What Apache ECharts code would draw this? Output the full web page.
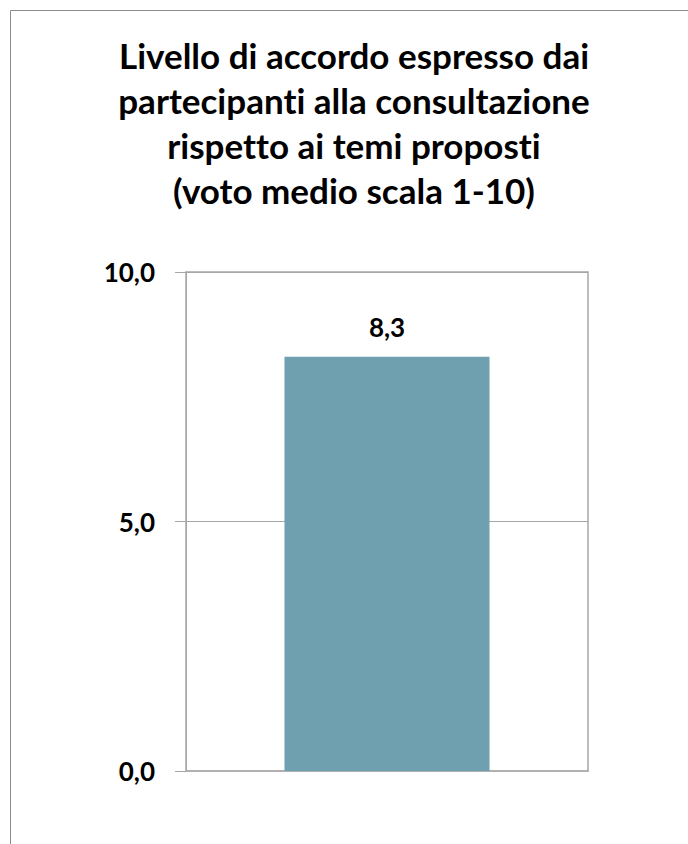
<!DOCTYPE html>
<html>
<head>
<meta charset="utf-8">
<script src="https://cdn.jsdelivr.net/npm/echarts@6/dist/echarts.min.js"></script>
<style>
html,body{margin:0;padding:0;background:#fff;}
#chart{width:688px;height:844px;}
#chart text{font-variant-ligatures:none;}
</style>
</head>
<body>
<div id="chart"></div>
<script>
var titleLines = ['Livello di accordo espresso dai', 'partecipanti alla consultazione', 'rispetto ai temi proposti', '(voto medio scala 1-10)'];
var categories = [''];
var values = [8.3];
var yMin = 0, yMax = 10, yInterval = 5;

function fmt(v) { return v.toFixed(1).replace('.', ','); }

var chart = echarts.init(document.getElementById('chart'), null, { renderer: 'svg' });
chart.setOption({
  animation: false,
  backgroundColor: '#fff',
  textStyle: { fontFamily: 'Lato' },
  title: {
    text: titleLines.join('\n'),
    left: 349, top: 27, textAlign: 'center',
    textStyle: { fontFamily: 'Lato', fontWeight: 'bold', fontSize: 35, lineHeight: 45, color: '#000' }
  },
  graphic: [{
    type: 'rect', silent: true,
    shape: { x: 10.5, y: 10.5, width: 800, height: 900 },
    style: { fill: 'none', stroke: '#8c8c8c', lineWidth: 1 }
  }],
  grid: { left: 186, top: 272, right: 100, bottom: 73, show: true, borderColor: '#a6a6a6', borderWidth: 1.5, containLabel: false },
  xAxis: {
    type: 'category', data: categories,
    axisLine: { lineStyle: { color: '#b0b0b0', width: 2 } },
    axisTick: { show: false }, axisLabel: { show: false }
  },
  yAxis: {
    type: 'value', min: yMin, max: yMax, interval: yInterval,
    axisLine: { show: true, lineStyle: { color: '#a6a6a6', width: 1 } },
    axisTick: { show: true, length: 11, lineStyle: { color: '#a6a6a6' } },
    splitLine: { show: true, lineStyle: { color: '#a6a6a6', width: 1 } },
    axisLabel: { margin: 31, formatter: fmt, fontFamily: 'Lato', fontWeight: 'bold', fontSize: 26, color: '#000' }
  },
  series: [{
    type: 'bar', data: values, barWidth: '51%',
    itemStyle: { color: '#6fa0af' },
    label: { show: true, position: 'top', distance: 17, formatter: function (p) { return fmt(p.value); },
      fontFamily: 'Lato', fontWeight: 'bold', fontSize: 26, color: '#000' }
  }]
});
</script>
</body>
</html>
